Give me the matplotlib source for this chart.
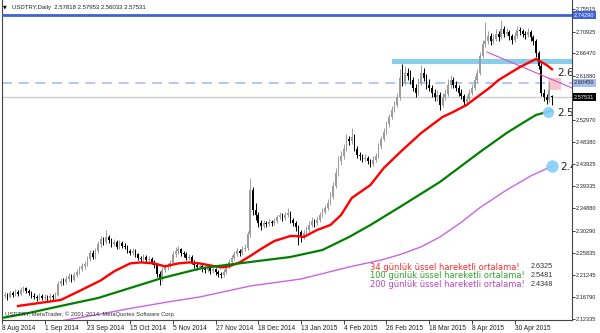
import numpy as np
import matplotlib.pyplot as plt
from matplotlib.patches import Rectangle

plt.rcParams['font.family'] = ['Liberation Sans', 'DejaVu Sans']

# ---- data ----
date_labels = ["8 Aug 2014", "1 Sep 2014", "23 Sep 2014", "15 Oct 2014", "5 Nov 2014",
               "27 Nov 2014", "18 Dec 2014", "13 Jan 2015", "4 Feb 2015", "26 Feb 2015",
               "18 Mar 2015", "8 Apr 2015", "30 Apr 2015"]
price_ticks = [2.75515, 2.70925, 2.66470, 2.61880, 2.52970, 2.48380, 2.43925, 2.39335,
               2.34880, 2.30290, 2.25835, 2.21245, 2.16790, 2.12335]

opens = [2.166, 2.170, 2.172, 2.168, 2.175, 2.171, 2.178, 2.174, 2.182, 2.185,
         2.180, 2.176, 2.170, 2.168, 2.165, 2.170, 2.166, 2.168, 2.165, 2.170,
         2.167, 2.172, 2.195, 2.200, 2.198, 2.205, 2.210, 2.203, 2.212, 2.218,
         2.225, 2.230, 2.235, 2.245, 2.258, 2.250, 2.262, 2.275, 2.285, 2.280,
         2.290, 2.283, 2.275, 2.280, 2.270, 2.278, 2.272, 2.270, 2.262, 2.258,
         2.262, 2.255, 2.248, 2.245, 2.250, 2.243, 2.245, 2.240, 2.232, 2.215,
         2.205, 2.222, 2.228, 2.230, 2.238, 2.255, 2.262, 2.265, 2.258, 2.255,
         2.248, 2.250, 2.240, 2.232, 2.228, 2.230, 2.225, 2.222, 2.226, 2.220,
         2.224, 2.218, 2.215, 2.212, 2.218, 2.230, 2.240, 2.248, 2.255, 2.262,
         2.258, 2.265, 2.268, 2.296, 2.385, 2.345, 2.335, 2.318, 2.312, 2.318,
         2.316, 2.320, 2.318, 2.322, 2.330, 2.335, 2.328, 2.335, 2.340, 2.325,
         2.318, 2.310, 2.300, 2.290, 2.298, 2.305, 2.315, 2.322, 2.318, 2.325,
         2.335, 2.342, 2.350, 2.360, 2.372, 2.395, 2.420, 2.445, 2.455, 2.470,
         2.490, 2.485, 2.495, 2.470, 2.458, 2.455, 2.450, 2.452, 2.445, 2.440,
         2.448, 2.455, 2.475, 2.490, 2.505, 2.520, 2.535, 2.550, 2.560, 2.575,
         2.615, 2.605, 2.625, 2.618, 2.610, 2.595, 2.585, 2.605, 2.625, 2.615,
         2.600, 2.595, 2.585, 2.575, 2.580, 2.560, 2.575, 2.582, 2.600, 2.610,
         2.600, 2.595, 2.585, 2.578, 2.565, 2.572, 2.585, 2.595, 2.610, 2.625,
         2.660, 2.685, 2.690, 2.700, 2.690, 2.695, 2.705, 2.698, 2.715, 2.705,
         2.708, 2.700, 2.692, 2.700, 2.712, 2.710, 2.705, 2.702, 2.708, 2.698,
         2.690, 2.665, 2.640, 2.585, 2.575, 2.570, 2.57818]
highs = [2.176, 2.178, 2.176, 2.180, 2.179, 2.183, 2.182, 2.188, 2.190, 2.189,
         2.184, 2.179, 2.175, 2.172, 2.176, 2.173, 2.174, 2.171, 2.176, 2.174,
         2.178, 2.200, 2.207, 2.206, 2.211, 2.216, 2.214, 2.218, 2.224, 2.231,
         2.236, 2.241, 2.251, 2.264, 2.263, 2.268, 2.281, 2.292, 2.290, 2.304,
         2.295, 2.288, 2.287, 2.284, 2.284, 2.282, 2.277, 2.274, 2.266, 2.268,
         2.265, 2.258, 2.252, 2.256, 2.254, 2.251, 2.249, 2.244, 2.236, 2.220,
         2.228, 2.234, 2.236, 2.244, 2.262, 2.270, 2.271, 2.268, 2.262, 2.259,
         2.256, 2.253, 2.244, 2.236, 2.236, 2.234, 2.229, 2.232, 2.230, 2.230,
         2.227, 2.222, 2.219, 2.224, 2.236, 2.246, 2.254, 2.261, 2.268, 2.266,
         2.271, 2.276, 2.302, 2.410, 2.392, 2.360, 2.342, 2.325, 2.324, 2.322,
         2.326, 2.324, 2.328, 2.336, 2.342, 2.339, 2.342, 2.350, 2.344, 2.329,
         2.322, 2.314, 2.305, 2.304, 2.312, 2.322, 2.330, 2.327, 2.332, 2.342,
         2.349, 2.356, 2.368, 2.381, 2.402, 2.430, 2.455, 2.466, 2.480, 2.500,
         2.497, 2.512, 2.500, 2.475, 2.464, 2.460, 2.460, 2.456, 2.449, 2.455,
         2.462, 2.482, 2.497, 2.512, 2.527, 2.542, 2.557, 2.567, 2.583, 2.632,
         2.643, 2.640, 2.636, 2.630, 2.616, 2.602, 2.615, 2.642, 2.636, 2.622,
         2.612, 2.600, 2.592, 2.590, 2.586, 2.584, 2.592, 2.612, 2.620, 2.616,
         2.608, 2.600, 2.592, 2.582, 2.580, 2.592, 2.602, 2.618, 2.632, 2.668,
         2.692, 2.728, 2.710, 2.706, 2.704, 2.714, 2.710, 2.733, 2.720, 2.716,
         2.712, 2.705, 2.708, 2.720, 2.718, 2.714, 2.710, 2.716, 2.712, 2.702,
         2.694, 2.670, 2.645, 2.592, 2.582, 2.606, 2.57953]
lows = [2.163, 2.166, 2.162, 2.165, 2.167, 2.169, 2.170, 2.172, 2.178, 2.175,
        2.171, 2.165, 2.163, 2.160, 2.162, 2.161, 2.162, 2.159, 2.162, 2.162,
        2.164, 2.170, 2.190, 2.192, 2.195, 2.201, 2.198, 2.200, 2.208, 2.214,
        2.220, 2.225, 2.231, 2.241, 2.245, 2.246, 2.258, 2.270, 2.274, 2.276,
        2.278, 2.270, 2.271, 2.265, 2.266, 2.267, 2.265, 2.257, 2.253, 2.254,
        2.250, 2.243, 2.240, 2.242, 2.238, 2.239, 2.235, 2.226, 2.208, 2.192,
        2.200, 2.218, 2.222, 2.226, 2.234, 2.250, 2.256, 2.252, 2.249, 2.243,
        2.244, 2.235, 2.227, 2.222, 2.224, 2.219, 2.216, 2.218, 2.214, 2.216,
        2.212, 2.208, 2.206, 2.208, 2.214, 2.226, 2.236, 2.244, 2.251, 2.252,
        2.254, 2.261, 2.264, 2.290, 2.335, 2.325, 2.310, 2.305, 2.308, 2.310,
        2.312, 2.312, 2.314, 2.318, 2.326, 2.322, 2.324, 2.331, 2.319, 2.312,
        2.303, 2.274, 2.280, 2.286, 2.293, 2.300, 2.311, 2.310, 2.314, 2.321,
        2.330, 2.338, 2.346, 2.355, 2.368, 2.390, 2.415, 2.438, 2.450, 2.465,
        2.478, 2.480, 2.465, 2.452, 2.448, 2.444, 2.446, 2.440, 2.432, 2.436,
        2.444, 2.451, 2.470, 2.485, 2.500, 2.515, 2.530, 2.545, 2.555, 2.570,
        2.598, 2.600, 2.610, 2.602, 2.588, 2.575, 2.580, 2.600, 2.608, 2.592,
        2.588, 2.576, 2.568, 2.568, 2.550, 2.555, 2.570, 2.578, 2.595, 2.594,
        2.588, 2.578, 2.572, 2.558, 2.560, 2.568, 2.580, 2.590, 2.605, 2.620,
        2.655, 2.678, 2.684, 2.682, 2.684, 2.690, 2.690, 2.694, 2.698, 2.700,
        2.692, 2.684, 2.688, 2.696, 2.703, 2.698, 2.695, 2.698, 2.690, 2.682,
        2.658, 2.632, 2.578, 2.568, 2.562, 2.566, 2.56033]
closes = [2.170, 2.172, 2.168, 2.175, 2.171, 2.178, 2.174, 2.182, 2.185, 2.180,
          2.176, 2.170, 2.168, 2.165, 2.170, 2.166, 2.168, 2.165, 2.170, 2.167,
          2.172, 2.195, 2.200, 2.198, 2.205, 2.210, 2.203, 2.212, 2.218, 2.225,
          2.230, 2.235, 2.245, 2.258, 2.250, 2.262, 2.275, 2.285, 2.280, 2.290,
          2.283, 2.275, 2.280, 2.270, 2.278, 2.272, 2.270, 2.262, 2.258, 2.262,
          2.255, 2.248, 2.245, 2.250, 2.243, 2.245, 2.240, 2.232, 2.215, 2.205,
          2.222, 2.228, 2.230, 2.238, 2.255, 2.262, 2.265, 2.258, 2.255, 2.248,
          2.250, 2.240, 2.232, 2.228, 2.230, 2.225, 2.222, 2.226, 2.220, 2.224,
          2.218, 2.215, 2.212, 2.218, 2.230, 2.240, 2.248, 2.255, 2.262, 2.258,
          2.265, 2.268, 2.296, 2.385, 2.345, 2.335, 2.318, 2.312, 2.318, 2.316,
          2.320, 2.318, 2.322, 2.330, 2.335, 2.328, 2.335, 2.340, 2.325, 2.318,
          2.310, 2.300, 2.290, 2.298, 2.305, 2.315, 2.322, 2.318, 2.325, 2.335,
          2.342, 2.350, 2.360, 2.372, 2.395, 2.420, 2.445, 2.455, 2.470, 2.490,
          2.485, 2.495, 2.470, 2.458, 2.455, 2.450, 2.452, 2.445, 2.440, 2.448,
          2.455, 2.475, 2.490, 2.505, 2.520, 2.535, 2.550, 2.560, 2.575, 2.615,
          2.605, 2.625, 2.618, 2.610, 2.595, 2.585, 2.605, 2.625, 2.615, 2.600,
          2.595, 2.585, 2.575, 2.580, 2.560, 2.575, 2.582, 2.600, 2.610, 2.600,
          2.595, 2.585, 2.578, 2.565, 2.572, 2.585, 2.595, 2.610, 2.625, 2.660,
          2.685, 2.690, 2.700, 2.690, 2.695, 2.705, 2.698, 2.715, 2.705, 2.708,
          2.700, 2.692, 2.700, 2.712, 2.710, 2.705, 2.702, 2.708, 2.698, 2.690,
          2.665, 2.640, 2.585, 2.575, 2.570, 2.590, 2.57531]

# moving averages, read at a few bars
ema34_bar = [6, 14, 22, 29, 37, 42, 48, 52, 57, 61, 66, 70, 74, 78, 82, 85, 89, 93, 97,
             102, 108, 110, 113, 118, 123, 127, 131, 138, 143, 150, 157, 165, 169, 174,
             178, 183, 186, 194, 200, 204, 206]
ema34_val = [2.1493, 2.1554, 2.1615, 2.1799, 2.2015, 2.2200, 2.2362, 2.2382, 2.2362,
             2.2301, 2.2362, 2.2382, 2.2362, 2.2321, 2.2280, 2.2301, 2.2382, 2.2513,
             2.2656, 2.2819, 2.2921, 2.2921, 2.2901, 2.3044, 2.3146, 2.3350, 2.3697,
             2.3962, 2.4309, 2.4676, 2.5023, 2.5350, 2.5452, 2.5595, 2.5758, 2.5962,
             2.6105, 2.6370, 2.6534, 2.6411, 2.6325]
ema100_bar = [0, 10, 22, 36, 48, 60, 75, 93, 108, 120, 130, 138, 149, 164, 179, 189,
              195, 200, 206]
ema100_val = [2.1248, 2.1350, 2.1493, 2.1656, 2.1860, 2.2064, 2.2268, 2.2391, 2.2493,
              2.2635, 2.2901, 2.3146, 2.3513, 2.4023, 2.4635, 2.5023, 2.5227, 2.5391,
              2.5481]
ema200_bar = [20, 37, 49, 62, 74, 93, 112, 130, 142, 149, 157, 164, 172, 179, 189, 198, 206]
ema200_val = [2.1169, 2.1329, 2.1452, 2.1574, 2.1676, 2.1901, 2.2044, 2.2289, 2.2430,
              2.2540, 2.2700, 2.2900, 2.3200, 2.3500, 2.3860, 2.4146, 2.4348]

ma_names = ["34 günlük üssel hareketli ortalama!", "100 günlük üssel hareketli ortalama!",
            "200 günlük üssel hareketli ortalama!"]
ma_last = ["2.6325", "2.5481", "2.4348"]

level_blue = 2.74290
level_dash = 2.60450
last_price = 2.57531
resist_zone = (146, 2.6435, 2.6525)
pink_zone = (204.5, 2.590, 2.614)
trend_bars = [181.6, 213.5]
trend_vals = [2.6677, 2.5942]

# ---- figure ----
W, H = 600, 333
fig = plt.figure(figsize=(W / 100, H / 100), dpi=100)
ax = fig.add_axes([2 / W, 13.5 / H, 570 / W, 319.5 / H])
ax.set_xlim(0, 213.5)
ax.set_ylim(2.1217, 2.7738)

o = np.array(opens); h = np.array(highs); l = np.array(lows); c = np.array(closes)
idx = np.arange(len(c))
col = np.where(c >= o, '#9c9c9c', '#000000')
ax.vlines(idx, l, h, colors=col, lw=0.7, zorder=2)
ax.bar(idx, np.maximum(np.abs(c - o), 0.0012), bottom=np.minimum(o, c), width=0.62,
       color=col, lw=0, zorder=2)

# levels / objects
ax.axhline(level_blue, color='#3e63d8', lw=2, zorder=3)
ax.axhline(level_dash, color='#a9bcf2', lw=1.2, ls=(0, (6, 4)), zorder=1)
ax.axhline(last_price, color='#cfcfcf', lw=1, zorder=1)
ax.add_patch(Rectangle((resist_zone[0], resist_zone[1]), 300, resist_zone[2] - resist_zone[1],
                       color='#87ceeb', lw=0, zorder=1))
ax.add_patch(Rectangle((pink_zone[0], pink_zone[1]), 5, pink_zone[2] - pink_zone[1],
                       color='#f6c6cf', lw=0, zorder=1))
ax.plot(trend_bars, trend_vals, color='#cc55cc', lw=0.8, zorder=3)

ax.plot(ema34_bar, ema34_val, color='#ff0000', lw=1.7, zorder=4)
ax.plot(ema100_bar, ema100_val, color='#008000', lw=1.6, zorder=4)
ax.plot(ema200_bar, ema200_val, color='#c964e8', lw=1.0, zorder=4)

ax.plot([204.5], [ema100_val[-1] - 0.002], 'o', ms=8, mfc='#87cefa', mec='none', alpha=0.9, zorder=5)
ax.plot([206], [ema200_val[-1]], 'o', ms=9, mfc='#87cefa', mec='none', alpha=0.9, zorder=5)

for x, y, s in [(207.8, 2.6248, "2.61"), (207.8, 2.5431, "2.54"), (209, 2.4330, "2.4")]:
    ax.text(x, y, s, fontsize=7.5, family='DejaVu Sans',
            va='center', ha='left', color='#222222', clip_on=True, zorder=6)

# axes styling
ax.spines['top'].set_visible(False)
for s in ['left', 'right', 'bottom']:
    ax.spines[s].set_color('#444444')
    ax.spines[s].set_linewidth(0.8)

ax.yaxis.tick_right()
ax.set_yticks(price_ticks)
ax.set_yticklabels([f"{v:.5f}" for v in price_ticks])
ax.tick_params(axis='y', length=2.2, width=0.6, labelsize=4.1, pad=0.6, colors='#222222')
ax.set_xticks(np.arange(0, 16 * len(date_labels), 16))
ax.set_xticklabels(date_labels)
for t in ax.get_xticklabels():
    t.set_ha('left')
ax.tick_params(axis='x', length=3, width=0.6, labelsize=4.8, pad=1.2, colors='#222222')

def price_box(val, fc, tc):
    ax.annotate(f"{val:.5f}", xy=(1, val), xycoords=('axes fraction', 'data'),
                xytext=(1.6, 0), textcoords='offset points', ha='left', va='center',
                fontsize=4.1, color=tc, zorder=10, annotation_clip=False,
                bbox=dict(boxstyle='square,pad=0.3', fc=fc, ec='none'))

price_box(level_blue, '#3e63d8', 'white')
price_box(level_dash, '#a9bcf2', '#222222')
price_box(last_price, '#000000', 'white')

# header and footer text
fig.text(3 / W, 1 - 7 / H, "▼", fontsize=3.5, va='center', family='DejaVu Sans')
fig.text(12 / W, 1 - 7 / H, "USDTRY,Daily  2.57818 2.57953 2.56033 2.57531",
         fontsize=4.3, va='center', color='#222222')
fig.text(5 / W, 1 - 314 / H, "USDTRY, MetaTrader, © 2001-2014, MetaQuotes Software Corp.",
         fontsize=4.2, va='center', color='#333333')

# moving average legend
leg_cols = ['#ff2b2b', '#2ea62e', '#b844c0']
for k, (name, val, cc) in enumerate(zip(ma_names, ma_last, leg_cols)):
    yy = 1 - (267 + 8.7 * k) / H
    fig.text(370 / W, yy, name, fontsize=6, family='DejaVu Sans', color=cc, va='center')
    fig.text(531 / W, yy, val, fontsize=5.2, color='#333333', va='center')

fig.savefig("out.png", dpi=100, facecolor='white')
